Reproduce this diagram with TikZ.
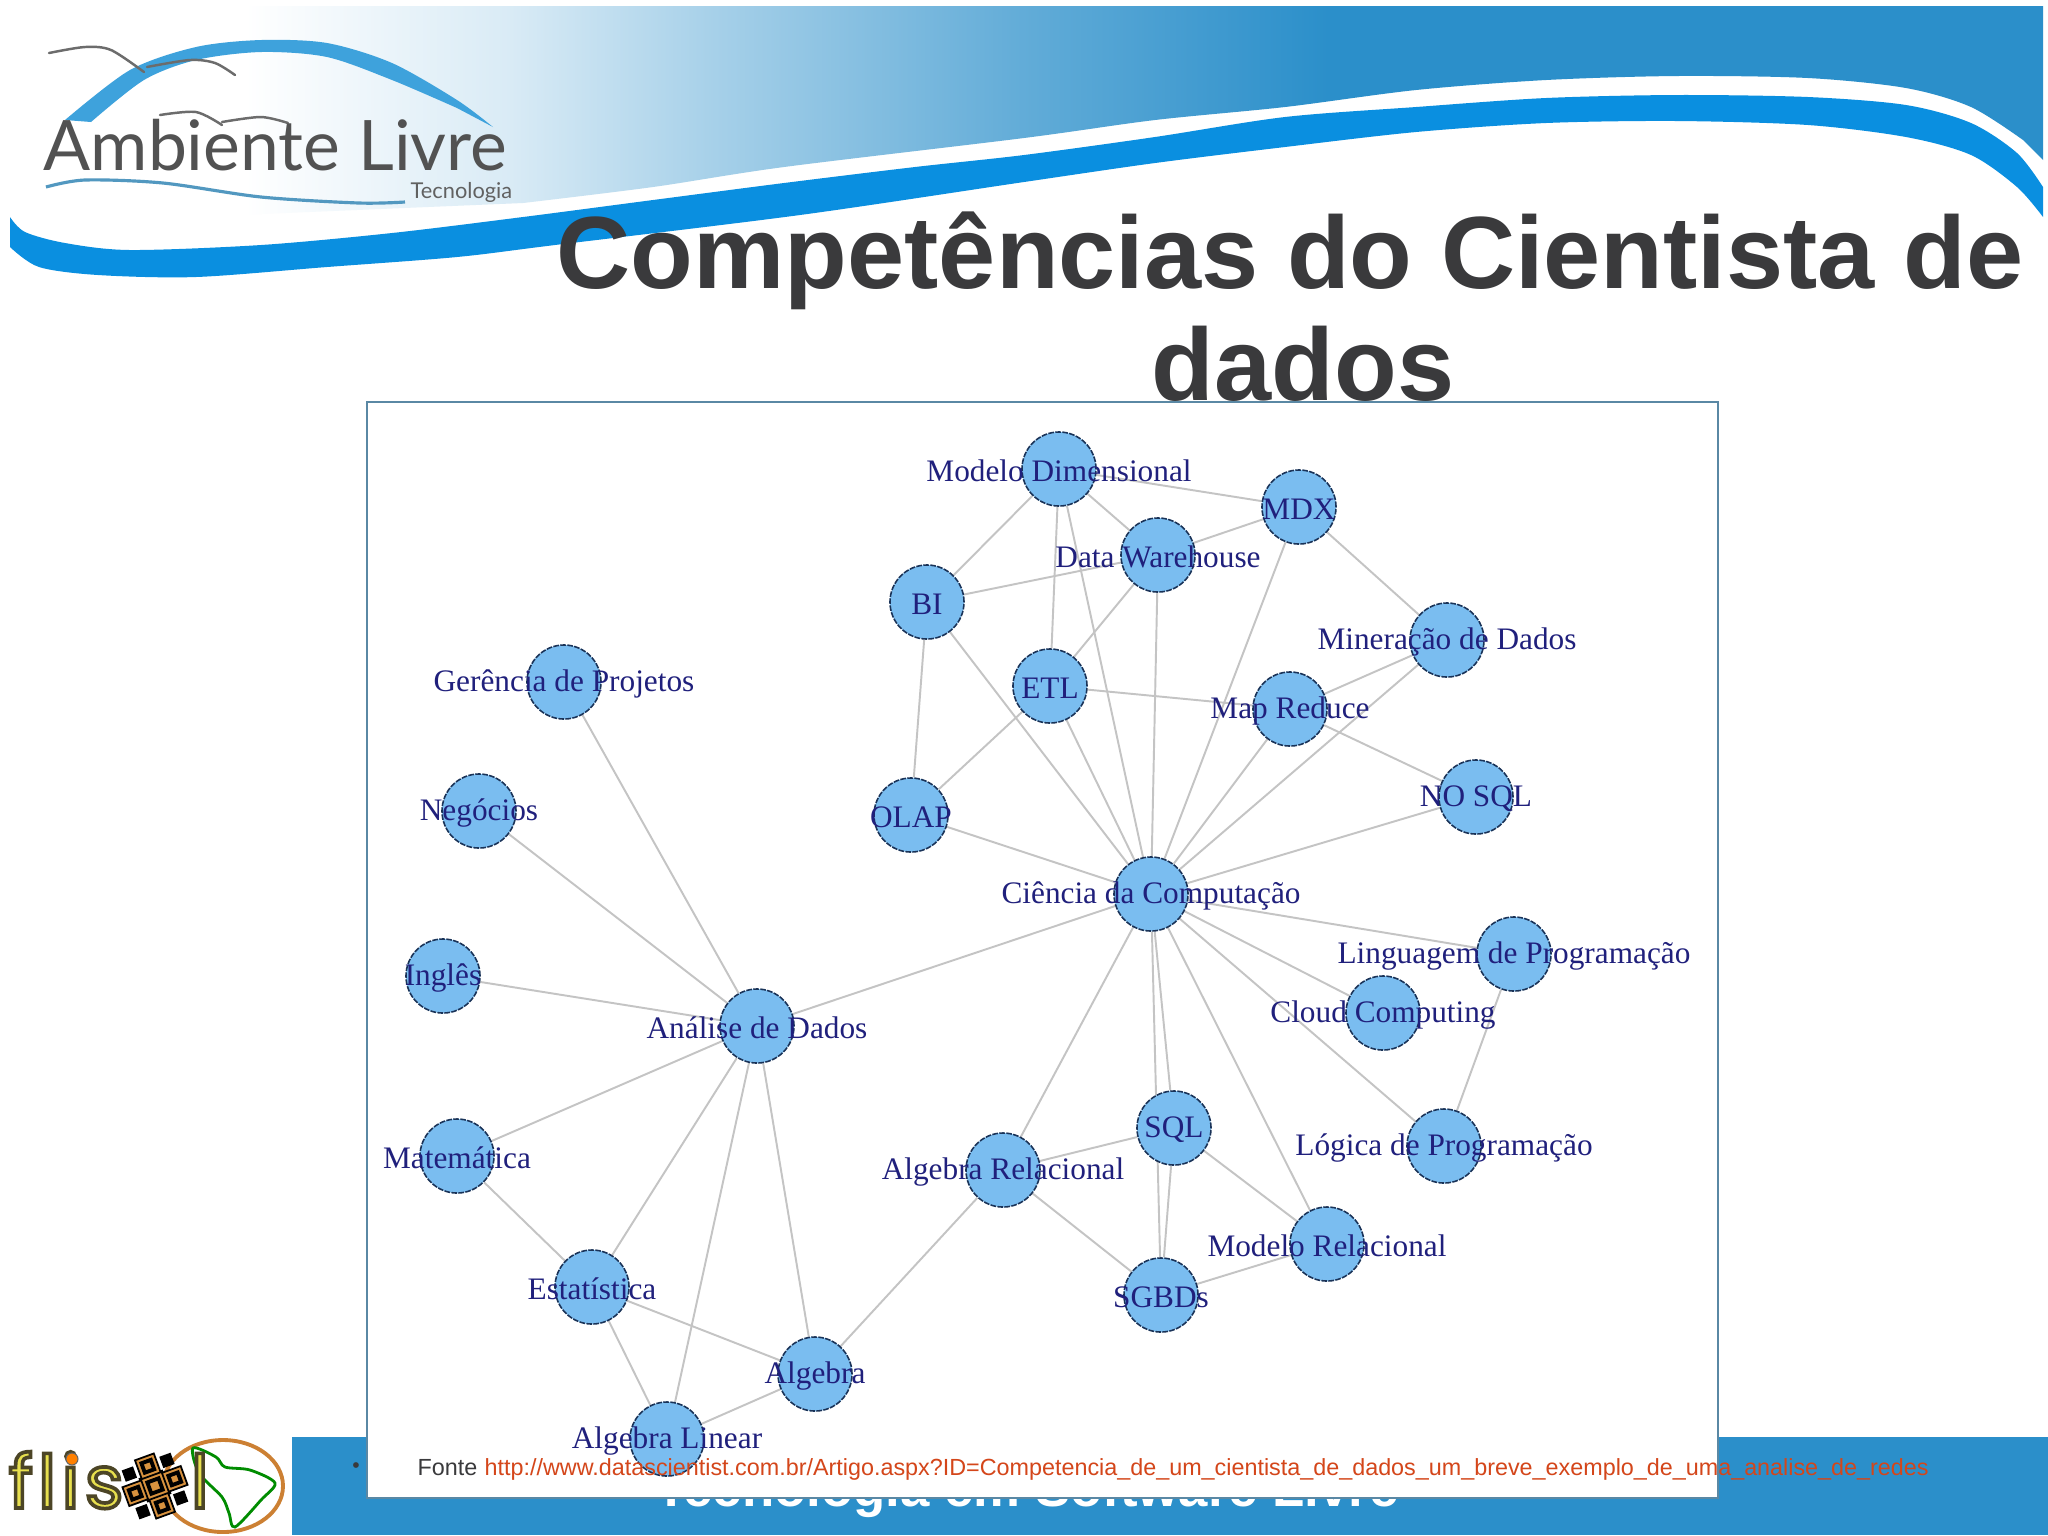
\documentclass[tikz,border=0pt]{standalone}
\usepackage{xcolor}
\usepackage{fontspec}
\setmainfont{Liberation Sans}
\newfontfamily\graphfont{Liberation Serif}
\newfontfamily\logofont{Lato}
\newfontfamily\flisfont[FakeBold=5,LetterSpace=7]{Poppins}
\definecolor{bannerblue}{HTML}{2B8FCA}
\definecolor{waveblue}{HTML}{0A8FE0}
\definecolor{swooshblue}{HTML}{3EA2DC}
\definecolor{titlegray}{HTML}{3A3A3C}
\definecolor{nodeblue}{HTML}{7ABDF0}
\definecolor{nodeline}{HTML}{1A3358}
\definecolor{labelblue}{HTML}{20207C}
\definecolor{edgegray}{HTML}{C4C4C4}
\definecolor{linkred}{HTML}{D4461A}
\definecolor{boxline}{HTML}{5A88A4}
\definecolor{qrorange}{HTML}{D8923E}
\definecolor{flisyellow}{HTML}{E8E04E}
\pgfdeclarehorizontalshading{bannerfade}{100bp}{color(0bp)=(white); color(31bp)=(white); color(37.5bp)=(bannerblue!18!white); color(42.5bp)=(bannerblue!42!white); color(50bp)=(bannerblue!74!white); color(57.5bp)=(bannerblue); color(100bp)=(bannerblue)}
\pgfdeclarelayer{pagelayer}
\pgfdeclarelayer{edgelayer}
\pgfsetlayers{pagelayer,edgelayer,main}
\tikzset{
	compnode/.style={circle, draw=nodeline, fill=nodeblue, line width=0.45pt, dash pattern=on 1.6pt off 0.4pt, minimum size=0.74cm, inner sep=0pt, label={[complabel]center:#1}},
	complabel/.style={font=\graphfont\fontsize{8.9}{10}\selectfont, text=labelblue, inner sep=0pt, solid, yshift=-0.02cm},
	edgeline/.style={draw=edgegray, line width=0.55pt},
	titletext/.style={font=\bfseries\fontsize{29.2}{32}\selectfont, text=titlegray, anchor=base, inner sep=0pt},
	birdline/.style={draw=gray!85!black, line width=0.7pt, line cap=round},
	qrsquare/.style={fill=qrorange, draw=black, line width=0.5pt},
	flistext/.style={font=\flisfont\fontsize{21}{22}\selectfont, text=flisyellow, anchor=base west, inner sep=0pt}
}
\begin{document}
\begin{tikzpicture}[x=0.01cm, y=-0.01cm]
	\useasboundingbox (0,0) rectangle (2048,1535);

	\begin{pgfonlayer}{pagelayer}
		\fill[white] (0,0) rectangle (2048,1535);
		\shade[shading=bannerfade] (0,6) -- (2043,6) -- (2043,160) -- plot[smooth] coordinates {(2023,140) (1971,107) (1906,88) (1808,78) (1677,76) (1546,80) (1416,90) (1285,107) (1155,120) (1024,138) (784,167) (653,187) (523,203)} -- (0,225) -- cycle;
		\fill[waveblue] plot[smooth] coordinates {(10,217) (25,232) (65,243) (130,250) (261,245) (392,233) (523,217) (653,200) (784,183) (915,167) (1024,155) (1155,137) (1285,117) (1416,107) (1546,98) (1677,95) (1808,97) (1906,105) (1971,123) (2017,153) (2043,187)} -- plot[smooth] coordinates {(2043,217) (2017,187) (1971,155) (1906,137) (1808,125) (1677,121) (1546,123) (1416,132) (1285,147) (1155,163) (1024,182) (800,215) (555,245) (457,257) (327,267) (196,277) (98,275) (39,267) (10,247)} -- cycle;

		\fill[swooshblue] plot[smooth] coordinates {(65,120) (130,70) (196,47) (261,40) (327,43) (392,63) (457,100) (493,127)} -- plot[smooth] coordinates {(457,108) (392,80) (327,57) (261,52) (196,60) (144,80) (91,122)} -- cycle;
		\draw[birdline] plot[smooth] coordinates {(49,53) (85,47) (111,50) (144,72)};
		\draw[birdline] plot[smooth] coordinates {(147,67) (190,60) (215,63) (235,75)};
		\draw[birdline] plot[smooth] coordinates {(160,115) (196,112) (222,125)};
		\draw[birdline] plot[smooth] coordinates {(222,122) (261,117) (288,123)};
		\draw[swooshblue!70!gray, line width=0.9pt] plot[smooth] coordinates {(46,187) (85,180) (163,183) (261,197) (359,203) (405,202)};
		\node[font=\logofont\fontsize{19.8}{20}\selectfont, text=black!68, anchor=base west, inner sep=0pt] (logoname) at (43,170) {Ambiente Livre};
		\node[font=\logofont\fontsize{6.2}{7}\selectfont, text=black!62, anchor=base west, inner sep=0pt] (logotag) at (410,198) {Tecnologia};

		\fill[bannerblue] (292,1437) rectangle (2048,1535);
		\node[font=\bfseries\fontsize{15}{16}\selectfont, text=white, anchor=base, inner sep=0pt] (footertext) at (1027,1506) {Tecnologia em Software Livre};

		\node[titletext] (titleone) at (1290,288) {Competências do Cientista de};
		\node[titletext] (titletwo) at (1303,400) {dados};

		\draw[fill=white, draw=boxline, line width=0.5pt] (367,402) rectangle (1718,1498);
	\end{pgfonlayer}

	\draw[draw=brown!80!orange, line width=1.1pt, fill=white] (223,1486) ellipse (60 and 46);
	\draw[draw=green!55!black, line width=0.8pt] plot[smooth cycle] coordinates {(193,1448) (216,1457) (225,1467) (250,1470) (275,1483) (261,1500) (235,1527) (229,1513) (222,1497) (199,1473)};
	\node[flistext] (flisname) at (8,1508) {\special{pdf:code 0.3 0.27 0.15 RG}flis};
	\node[flistext] (flisend) at (190,1508) {\special{pdf:code 0.3 0.27 0.15 RG}l};
	\fill[orange, draw=black!60, line width=0.3pt] (72,1459) circle (6);
	\begin{scope}[shift={(155,1486)}, rotate=20]
		\draw[qrsquare] (-12,-12) rectangle (12,12);
		\draw[qrsquare] (-31,-10) rectangle (-11,10);
		\draw[qrsquare] (11,-10) rectangle (31,10);
		\draw[qrsquare] (-10,-31) rectangle (10,-11);
		\draw[qrsquare] (-10,11) rectangle (10,31);
		\draw[black, line width=1.1pt] (-6,-6) rectangle (6,6);
		\draw[black, line width=1.1pt] (-26,-5) rectangle (-16,5);
		\draw[black, line width=1.1pt] (16,-5) rectangle (26,5);
		\draw[black, line width=1.1pt] (-5,-26) rectangle (5,-16);
		\draw[black, line width=1.1pt] (-5,16) rectangle (5,26);
		\fill[black] (-26,-26) rectangle (-14,-14);
		\fill[black] (14,-26) rectangle (26,-14);
		\fill[black] (-26,14) rectangle (-14,26);
		\fill[black] (14,14) rectangle (26,26);
	\end{scope}

	\node[compnode={Modelo Dimensional}] (modelodim) at (1059,469) {};
	\node[compnode={MDX}] (mdx) at (1299,507) {};
	\node[compnode={Data Warehouse}] (warehouse) at (1158,555) {};
	\node[compnode={BI}] (bi) at (927,602) {};
	\node[compnode={Mineração de Dados}] (mineracao) at (1447,640) {};
	\node[compnode={ETL}] (etl) at (1050,686) {};
	\node[compnode={Map Reduce}] (mapreduce) at (1290,709) {};
	\node[compnode={NO SQL}] (nosql) at (1476,797) {};
	\node[compnode={OLAP}] (olap) at (911,815) {};
	\node[compnode={Ciência da Computação}] (ciencia) at (1151,894) {};
	\node[compnode={Linguagem de Programação}] (linguagem) at (1514,954) {};
	\node[compnode={Cloud Computing}] (cloud) at (1383,1013) {};
	\node[compnode={Lógica de Programação}] (logica) at (1444,1146) {};
	\node[compnode={SQL}] (sql) at (1174,1128) {};
	\node[compnode={Algebra Relacional}] (algrel) at (1003,1170) {};
	\node[compnode={Modelo Relacional}] (modrel) at (1327,1244) {};
	\node[compnode={SGBDs}] (sgbds) at (1161,1295) {};
	\node[compnode={Gerência de Projetos}] (gerencia) at (564,682) {};
	\node[compnode={Negócios}] (negocios) at (479,811) {};
	\node[compnode={Inglês}] (ingles) at (443,976) {};
	\node[compnode={Análise de Dados}] (analise) at (757,1026) {};
	\node[compnode={Matemática}] (matematica) at (457,1156) {};
	\node[compnode={Estatística}] (estatistica) at (592,1287) {};
	\node[compnode={Algebra}] (algebra) at (815,1374) {};
	\node[compnode={Algebra Linear}] (alglinear) at (667,1439) {};

	\begin{pgfonlayer}{edgelayer}
		\draw[edgeline] (modelodim) -- (mdx);
		\draw[edgeline] (modelodim) -- (bi);
		\draw[edgeline] (modelodim) -- (warehouse);
		\draw[edgeline] (modelodim) -- (etl);
		\draw[edgeline] (modelodim) -- (ciencia);
		\draw[edgeline] (warehouse) -- (mdx);
		\draw[edgeline] (warehouse) -- (bi);
		\draw[edgeline] (warehouse) -- (etl);
		\draw[edgeline] (warehouse) -- (ciencia);
		\draw[edgeline] (bi) -- (olap);
		\draw[edgeline] (bi) -- (ciencia);
		\draw[edgeline] (etl) -- (mapreduce);
		\draw[edgeline] (etl) -- (olap);
		\draw[edgeline] (etl) -- (ciencia);
		\draw[edgeline] (mdx) -- (mineracao);
		\draw[edgeline] (mdx) -- (ciencia);
		\draw[edgeline] (mineracao) -- (mapreduce);
		\draw[edgeline] (mineracao) -- (ciencia);
		\draw[edgeline] (mapreduce) -- (nosql);
		\draw[edgeline] (mapreduce) -- (ciencia);
		\draw[edgeline] (nosql) -- (ciencia);
		\draw[edgeline] (olap) -- (ciencia);
		\draw[edgeline] (ciencia) -- (analise);
		\draw[edgeline] (ciencia) -- (linguagem);
		\draw[edgeline] (ciencia) -- (cloud);
		\draw[edgeline] (ciencia) -- (logica);
		\draw[edgeline] (ciencia) -- (modrel);
		\draw[edgeline] (ciencia) -- (sql);
		\draw[edgeline] (ciencia) -- (sgbds);
		\draw[edgeline] (ciencia) -- (algrel);
		\draw[edgeline] (linguagem) -- (logica);
		\draw[edgeline] (sql) -- (algrel);
		\draw[edgeline] (sql) -- (modrel);
		\draw[edgeline] (sql) -- (sgbds);
		\draw[edgeline] (algrel) -- (sgbds);
		\draw[edgeline] (modrel) -- (sgbds);
		\draw[edgeline] (algrel) -- (algebra);
		\draw[edgeline] (analise) -- (gerencia);
		\draw[edgeline] (analise) -- (negocios);
		\draw[edgeline] (analise) -- (ingles);
		\draw[edgeline] (analise) -- (matematica);
		\draw[edgeline] (analise) -- (estatistica);
		\draw[edgeline] (analise) -- (alglinear);
		\draw[edgeline] (analise) -- (algebra);
		\draw[edgeline] (matematica) -- (estatistica);
		\draw[edgeline] (estatistica) -- (algebra);
		\draw[edgeline] (estatistica) -- (alglinear);
		\draw[edgeline] (algebra) -- (alglinear);
	\end{pgfonlayer}

	\node[font=\fontsize{6}{7}\selectfont, text=titlegray, inner sep=0pt] (bulletmark) at (356,1468) {•};
	\node[font=\fontsize{6.64}{8}\selectfont, text=titlegray, anchor=base west, inner sep=0pt] (fontelabel) at (417,1475) {Fonte};
	\node[font=\fontsize{6.64}{8}\selectfont, text=linkred, anchor=base west, inner sep=0pt] (fontelink) at (484,1475) {http://www.datascientist.com.br/Artigo.aspx?ID=Competencia\_de\_um\_cientista\_de\_dados\_um\_breve\_exemplo\_de\_uma\_analise\_de\_redes};
\end{tikzpicture}
\end{document}
